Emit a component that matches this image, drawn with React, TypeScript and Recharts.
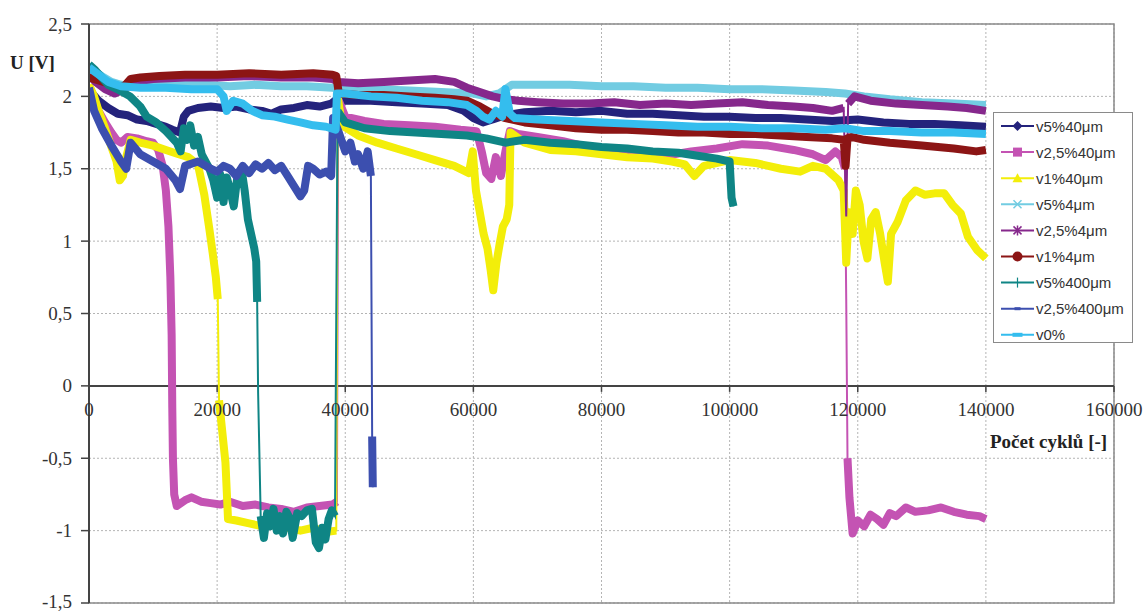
import React from "react";
import {
  CartesianGrid,
  Line,
  LineChart,
  ReferenceArea,
  ReferenceLine,
  XAxis,
  YAxis,
} from "recharts";

// cycle counts (x) and voltages (y), one pair of arrays per sample
const v5_40_x = [0, 500, 1500, 3000, 4500, 6000, 7500, 9000, 10500, 12000, 13000, 14200, 14800, 15500, 17000, 19000, 21000, 23000, 25000, 27000, 28500, 30000, 32000, 34000, 36000, 37800, 38700, 40000, 44000, 48000, 52000, 56000, 58500, 60000, 61500, 63000, 65000, 68000, 72000, 76000, 80000, 84000, 88000, 92000, 96000, 100000, 104000, 108000, 112000, 116000, 120000, 124000, 128000, 132000, 136000, 140000];
const v5_40_y = [2.07, 2.02, 1.97, 1.92, 1.88, 1.87, 1.84, 1.83, 1.81, 1.79, 1.77, 1.75, 1.86, 1.9, 1.92, 1.93, 1.92, 1.93, 1.91, 1.9, 1.88, 1.91, 1.92, 1.94, 1.93, 1.95, 1.98, 1.97, 1.97, 1.96, 1.95, 1.94, 1.9, 1.85, 1.82, 1.84, 1.87, 1.89, 1.9, 1.89, 1.9, 1.88, 1.88, 1.87, 1.86, 1.86, 1.85, 1.85, 1.84, 1.83, 1.84, 1.82, 1.81, 1.81, 1.8, 1.79];

const v25_40_x = [0, 700, 1500, 2500, 3500, 4300, 5000, 6000, 7500, 9000, 10000, 10800, 11500, 12000, 12400, 12700, 12900, 13000, 13100, 13300, 13700, 15000, 16000, 17500, 19000, 20500, 22000, 24000, 26000, 28000, 30000, 32000, 34000, 36000, 38000, 38700, 38900, 40000, 43000, 46000, 50000, 54000, 58000, 60500, 61300, 62000, 62800, 63500, 64300, 65000, 65700, 67000, 70000, 74000, 78000, 82000, 86000, 90000, 94000, 98000, 102000, 106000, 110000, 113000, 115000, 116500, 117500, 118000, 118200, 118400, 118700, 119200, 120000, 121000, 122000, 123000, 124000, 125000, 126000, 127500, 129000, 131000, 133000, 135000, 137000, 139000, 140000];
const v25_40_y = [2.05, 1.98, 1.9, 1.82, 1.75, 1.7, 1.68, 1.72, 1.71, 1.69, 1.68, 1.63, 1.52, 1.35, 1.1, 0.75, 0.35, -0.15, -0.5, -0.75, -0.83, -0.79, -0.77, -0.8, -0.81, -0.82, -0.8, -0.83, -0.82, -0.84, -0.85, -0.87, -0.84, -0.83, -0.82, -0.8, 1.98, 1.86, 1.83, 1.81, 1.8, 1.79, 1.77, 1.76, 1.62, 1.47, 1.43, 1.58, 1.45, 1.62, 1.76, 1.74, 1.72, 1.69, 1.65, 1.62, 1.6, 1.59, 1.62, 1.64, 1.67, 1.66, 1.63, 1.6, 1.56, 1.62, 1.58, 1.5, 0.6, -0.5, -0.77, -1.02, -0.93, -0.97, -0.89, -0.92, -0.96, -0.88, -0.9, -0.84, -0.87, -0.86, -0.84, -0.87, -0.89, -0.9, -0.92];

const v1_40_x = [0, 800, 1500, 2500, 3500, 4300, 4800, 5300, 5800, 6500, 8000, 10000, 12000, 14000, 15500, 17000, 18000, 18800, 19300, 19800, 20100, 20300, 21300, 21700, 23000, 25000, 27000, 29000, 31000, 33000, 35000, 37000, 38600, 38800, 39500, 42000, 45000, 48000, 51000, 54000, 57000, 59300, 59900, 60400, 61000, 61600, 62200, 62700, 63100, 63600, 64100, 64600, 65200, 65600, 65800, 68000, 72000, 76000, 80000, 84000, 88000, 91000, 93000, 94500, 96000, 100000, 104000, 108000, 111000, 113000, 115000, 117000, 117800, 118200, 118600, 119200, 119700, 120300, 120900, 121500, 122100, 122800, 123500, 124200, 124700, 125200, 126200, 127500, 129000, 130500, 132000, 133500, 134800, 136100, 137200, 138600, 140000];
const v1_40_y = [2.08, 2.0, 1.9, 1.78, 1.65, 1.55, 1.42, 1.45, 1.58, 1.7, 1.68, 1.66, 1.63, 1.6, 1.58, 1.53, 1.32, 1.08, 0.92, 0.75, 0.6, -0.1, -0.53, -0.92, -0.93, -0.95, -0.97, -0.96, -0.98, -1.0, -0.98, -1.01, -1.0, 2.0, 1.8, 1.73, 1.68, 1.64, 1.6, 1.56, 1.52, 1.47, 1.62, 1.35, 1.2, 1.05, 0.95, 0.8, 0.66, 0.85, 0.98, 1.1, 1.15, 1.25, 1.75, 1.68, 1.63, 1.62, 1.6, 1.58, 1.57, 1.55, 1.53, 1.45, 1.52, 1.56, 1.54, 1.5, 1.48, 1.52, 1.5, 1.42, 1.35, 0.85, 1.2, 1.05, 1.35, 1.25, 1.0, 0.88, 1.15, 1.2, 1.05, 0.85, 0.72, 1.05, 1.13, 1.28, 1.35, 1.32, 1.33, 1.33, 1.25, 1.19, 1.03, 0.94, 0.88];

const v5_4_x = [0, 1000, 2000, 3500, 5000, 7000, 10000, 14000, 18000, 22000, 26000, 30000, 34000, 38000, 40000, 45000, 50000, 55000, 60000, 62000, 64000, 66000, 70000, 75000, 80000, 85000, 90000, 95000, 100000, 105000, 110000, 115000, 118000, 121000, 125000, 130000, 135000, 140000];
const v5_4_y = [2.2, 2.17, 2.14, 2.1, 2.08, 2.07, 2.08, 2.08, 2.08, 2.07, 2.08, 2.07, 2.07, 2.06, 2.05, 2.05, 2.04, 2.03, 2.02, 2.0, 2.02, 2.08, 2.08, 2.08, 2.07, 2.07, 2.06, 2.06, 2.05, 2.05, 2.04, 2.03, 2.02, 2.0, 1.98, 1.96, 1.95, 1.94];

const v25_4_x = [0, 1000, 2500, 4000, 5500, 7000, 10000, 15000, 20000, 25000, 30000, 35000, 38000, 39000, 42000, 46000, 50000, 54000, 57000, 59000, 61000, 63000, 65000, 67000, 70000, 74000, 78000, 82000, 86000, 90000, 94000, 98000, 102000, 106000, 110000, 113000, 116000, 117800, 118200, 118500, 119500, 122000, 126000, 130000, 134000, 137000, 140000];
const v25_4_y = [2.15, 2.1, 2.05, 2.02, 2.05, 2.1, 2.12, 2.13, 2.13, 2.14, 2.13, 2.13, 2.12, 2.1, 2.09, 2.1, 2.11, 2.12, 2.1, 2.06, 2.03, 2.0, 1.98, 1.97, 1.96, 1.95, 1.95, 1.96, 1.94, 1.95, 1.94, 1.95, 1.96, 1.94, 1.93, 1.92, 1.9, 1.92, 1.17, 1.95, 2.0, 1.97, 1.95, 1.94, 1.93, 1.92, 1.9];

const v1_4_x = [0, 1500, 3000, 4500, 5500, 6500, 8000, 11000, 15000, 20000, 25000, 30000, 35000, 38000, 38600, 39000, 42000, 46000, 50000, 54000, 57000, 59000, 61000, 63000, 65000, 68000, 72000, 76000, 80000, 84000, 88000, 92000, 96000, 100000, 104000, 108000, 112000, 116000, 117800, 118100, 118400, 119000, 121000, 125000, 130000, 135000, 138500, 140000];
const v1_4_y = [2.13, 2.11, 2.09, 2.07, 2.07, 2.12, 2.13, 2.14, 2.15, 2.15, 2.16, 2.15, 2.16, 2.15, 2.14, 2.02, 2.01, 2.01, 2.0, 1.99, 1.98, 1.97, 1.93, 1.88, 1.85, 1.82, 1.8, 1.78, 1.77, 1.77, 1.76, 1.75, 1.75, 1.74, 1.74, 1.73, 1.72, 1.71, 1.7, 1.52, 1.71, 1.72, 1.7, 1.68, 1.66, 1.64, 1.62, 1.63];

const v5_400_x = [0, 1000, 2000, 3000, 4400, 6400, 8000, 9000, 10500, 12000, 13700, 14300, 14800, 15300, 15800, 16400, 17000, 17600, 18200, 18800, 19400, 20000, 20500, 21000, 21500, 22000, 22600, 23200, 23800, 24300, 24800, 25300, 25800, 26100, 26250, 26400, 26800, 27300, 27800, 28300, 28800, 29300, 29800, 30300, 30800, 31300, 31800, 32500, 33200, 34000, 34800, 35400, 35900, 36400, 36900, 37400, 37900, 38400, 38800, 40000, 43000, 47000, 51000, 55000, 59000, 62000, 65000, 68000, 72000, 76000, 80000, 84000, 88000, 92000, 95000, 98000, 100000, 100300, 100600];
const v5_400_y = [2.22, 2.18, 2.13, 2.08, 2.05, 2.0, 1.93, 1.86, 1.82, 1.76, 1.68, 1.62, 1.78, 1.7, 1.8, 1.66, 1.72, 1.6, 1.55, 1.5, 1.42, 1.3, 1.46, 1.27, 1.44, 1.36, 1.24, 1.46, 1.5, 1.35, 1.15, 1.05, 0.95, 0.86, 0.58, -0.05, -0.9, -1.05, -0.88, -0.97, -0.85, -1.0, -0.9, -1.02, -0.87, -0.91, -1.05, -0.88, -0.9, -0.86, -0.85, -1.08, -1.12, -0.98, -1.06, -0.92, -0.86, -0.9, 1.9, 1.82, 1.78, 1.76, 1.75, 1.74, 1.73, 1.71, 1.68, 1.7, 1.68, 1.67, 1.65, 1.64, 1.62, 1.61, 1.59, 1.57, 1.55, 1.3, 1.24];

const v25_400_x = [0, 800, 2000, 3500, 5000, 5800, 6500, 8000, 10000, 12000, 13500, 14200, 15000, 17000, 19000, 20000, 21000, 22000, 23000, 24000, 25000, 26000, 27000, 28000, 29000, 30000, 31000, 32000, 33000, 33600, 34200, 35000, 36000, 37000, 37800, 38100, 39000, 40000, 40800, 41500, 42000, 42800, 43500, 44000, 44200, 44300];
const v25_400_y = [2.06, 1.9, 1.78, 1.66, 1.55, 1.5, 1.68, 1.6, 1.55, 1.5, 1.42, 1.36, 1.52, 1.55, 1.5, 1.48, 1.52, 1.5, 1.45, 1.52, 1.47, 1.53, 1.5, 1.54, 1.49, 1.52, 1.45, 1.38, 1.31, 1.35, 1.52, 1.5, 1.46, 1.48, 1.45, 1.85, 1.75, 1.62, 1.68, 1.55, 1.6, 1.5, 1.62, 1.45, -0.35, -0.7];

const v0_x = [0, 1500, 3000, 5000, 8000, 12000, 16000, 20000, 21000, 21500, 22500, 24000, 25500, 27000, 29000, 31000, 33000, 35000, 37000, 38500, 38700, 40000, 44000, 48000, 52000, 56000, 59000, 60500, 61500, 62500, 63500, 64500, 65000, 65700, 66500, 70000, 75000, 80000, 85000, 90000, 95000, 100000, 105000, 110000, 115000, 118000, 121000, 125000, 130000, 135000, 140000];
const v0_y = [2.2, 2.15, 2.1, 2.07, 2.06, 2.06, 2.05, 2.05, 2.0, 1.9, 1.97, 1.95, 1.9, 1.87, 1.86, 1.84, 1.82, 1.8, 1.79, 1.77, 2.02, 2.02, 2.0, 1.99, 1.97, 1.96, 1.94, 1.9, 1.86, 1.84, 1.9, 1.86, 2.05, 1.88, 1.85, 1.84, 1.83, 1.82, 1.81, 1.8, 1.79, 1.79, 1.78, 1.78, 1.77, 1.78, 1.76, 1.76, 1.75, 1.75, 1.74];

const X_TICKS = [0, 20000, 40000, 60000, 80000, 100000, 120000, 140000, 160000];
const Y_TICKS = [-1.5, -1, -0.5, 0, 0.5, 1, 1.5, 2, 2.5];

const W = 1146;
const H = 611;
const MARGIN = { top: 24, right: 32, bottom: 0, left: 0 };
const X_AXIS_H = 8;
const Y_MIN = -1.5;
const Y_MAX = 2.5;
const PLOT_H = H - MARGIN.top - MARGIN.bottom - X_AXIS_H;
const ZERO_Y = MARGIN.top + (PLOT_H * Y_MAX) / (Y_MAX - Y_MIN);
const JUMP = 0.6; // voltage step above which the dense marker band breaks into a thin connector
const SERIF = "'Liberation Serif', 'Times New Roman', serif";
const SANS = "'Liberation Sans', Arial, sans-serif";

type Marker = "diamond" | "square" | "triangle" | "x" | "star" | "circle" | "plus" | "dash" | "bar";

const series: { name: string; color: string; xs: number[]; ys: number[]; marker: Marker }[] = [
  { name: "v5%40μm", color: "#24237C", xs: v5_40_x, ys: v5_40_y, marker: "diamond" },
  { name: "v2,5%40μm", color: "#C453B3", xs: v25_40_x, ys: v25_40_y, marker: "square" },
  { name: "v1%40μm", color: "#F3EE0A", xs: v1_40_x, ys: v1_40_y, marker: "triangle" },
  { name: "v5%4μm", color: "#72CCE2", xs: v5_4_x, ys: v5_4_y, marker: "x" },
  { name: "v2,5%4μm", color: "#86288C", xs: v25_4_x, ys: v25_4_y, marker: "star" },
  { name: "v1%4μm", color: "#8C1515", xs: v1_4_x, ys: v1_4_y, marker: "circle" },
  { name: "v5%400μm", color: "#0F8585", xs: v5_400_x, ys: v5_400_y, marker: "plus" },
  { name: "v2,5%400μm", color: "#3C4FAF", xs: v25_400_x, ys: v25_400_y, marker: "dash" },
  { name: "v0%", color: "#34BDEE", xs: v0_x, ys: v0_y, marker: "bar" },
];

const fmtY = (v: number) => String(v).replace(".", ",");

// full path of the series
const toPoints = (xs: number[], ys: number[]) => xs.map((x, i) => ({ x, y: ys[i] as number | null }));

// same points, but the thick band is interrupted (null gap) across big jumps
function toBand(xs: number[], ys: number[]) {
  const out: { x: number; y: number | null }[] = [];
  xs.forEach((x, i) => {
    if (i > 0 && Math.abs(ys[i] - ys[i - 1]) > JUMP) out.push({ x: (x + xs[i - 1]) / 2, y: null });
    out.push({ x, y: ys[i] });
  });
  return out;
}

function XTick(props: any) {
  const { x, payload } = props;
  return (
    <g>
      <line x1={x} x2={x} y1={ZERO_Y} y2={ZERO_Y + 6} stroke="#444" strokeWidth={1.5} />
      <text
        x={x}
        y={ZERO_Y + 24}
        textAnchor="middle"
        dominantBaseline="central"
        fontFamily={SERIF}
        fontSize={19}
        fill="#333"
      >
        {payload.value}
      </text>
    </g>
  );
}

function YTick(props: any) {
  const { x, y, payload } = props;
  return (
    <text
      x={x}
      y={Math.min(y, H - 10)}
      textAnchor="end"
      dominantBaseline="central"
      fontFamily={SERIF}
      fontSize={19}
      fill="#333"
    >
      {fmtY(payload.value)}
    </text>
  );
}

function MarkerIcon({ kind, cx, cy, color }: { kind: Marker; cx: number; cy: number; color: string }) {
  switch (kind) {
    case "diamond":
      return <polygon points={`${cx},${cy - 5} ${cx + 5},${cy} ${cx},${cy + 5} ${cx - 5},${cy}`} fill={color} />;
    case "square":
      return <rect x={cx - 4.5} y={cy - 4.5} width={9} height={9} fill={color} />;
    case "triangle":
      return <polygon points={`${cx},${cy - 5} ${cx + 5},${cy + 4} ${cx - 5},${cy + 4}`} fill={color} />;
    case "x":
      return (
        <path d={`M${cx - 4},${cy - 4}L${cx + 4},${cy + 4}M${cx - 4},${cy + 4}L${cx + 4},${cy - 4}`} stroke={color} strokeWidth={1.5} />
      );
    case "star":
      return (
        <path
          d={`M${cx - 4},${cy - 4}L${cx + 4},${cy + 4}M${cx - 4},${cy + 4}L${cx + 4},${cy - 4}M${cx},${cy - 5}L${cx},${cy + 5}`}
          stroke={color}
          strokeWidth={1.5}
        />
      );
    case "circle":
      return <circle cx={cx} cy={cy} r={5} fill={color} />;
    case "plus":
      return <path d={`M${cx},${cy - 5}L${cx},${cy + 5}`} stroke={color} strokeWidth={1.2} />;
    case "dash":
      return <rect x={cx - 3} y={cy - 1.5} width={6} height={3} fill={color} />;
    case "bar":
      return <rect x={cx - 5} y={cy - 2} width={10} height={4} fill={color} />;
  }
}

function LegendBox() {
  const rowH = 26.1;
  return (
    <div
      style={{
        position: "absolute",
        left: 993,
        top: 112,
        width: 140,
        height: 231,
        border: "1px solid #8a8a8a",
        background: "#fff",
        boxSizing: "border-box",
      }}
    >
      <svg width={140} height={231}>
        {series.map((s, i) => {
          const cy = 13 + i * rowH;
          return (
            <g key={s.name}>
              <line x1={7} x2={40} y1={cy} y2={cy} stroke={s.color} strokeWidth={2} />
              <MarkerIcon kind={s.marker} cx={23.5} cy={cy} color={s.color} />
              <text x={42} y={cy} dominantBaseline="central" fontFamily={SANS} fontSize={15} fill="#333">
                {s.name}
              </text>
            </g>
          );
        })}
      </svg>
    </div>
  );
}

export default function App() {
  const lines: React.ReactNode[] = [];
  series.forEach((s) => {
    lines.push(
      <Line
        key={s.name + "-thin"}
        data={toPoints(s.xs, s.ys)}
        dataKey="y"
        type="linear"
        stroke={s.color}
        strokeWidth={2}
        dot={false}
        activeDot={false}
        legendType="none"
        isAnimationActive={false}
      />
    );
    lines.push(
      <Line
        key={s.name}
        name={s.name}
        data={toBand(s.xs, s.ys)}
        dataKey="y"
        type="linear"
        stroke={s.color}
        strokeWidth={8}
        strokeLinejoin="round"
        connectNulls={false}
        dot={false}
        activeDot={false}
        isAnimationActive={false}
      />
    );
  });

  return (
    <div style={{ position: "absolute", left: 0, top: 0, width: W, height: H, background: "#fff" }}>
      <LineChart width={W} height={H} margin={MARGIN}>
        <CartesianGrid stroke="#b4b4b4" strokeDasharray="2 2" />
        <ReferenceArea x1={0} x2={160000} y1={Y_MIN} y2={Y_MAX} fill="none" stroke="#8a8a8a" strokeWidth={1.5} />
        <XAxis
          dataKey="x"
          type="number"
          domain={[0, 160000]}
          ticks={X_TICKS}
          interval={0}
          height={X_AXIS_H}
          axisLine={false}
          tickLine={false}
          tick={XTick}
          allowDataOverflow
        />
        <YAxis
          type="number"
          domain={[Y_MIN, Y_MAX]}
          ticks={Y_TICKS}
          interval={0}
          width={89}
          tickSize={8}
          tickMargin={9}
          axisLine={{ stroke: "#444", strokeWidth: 2 }}
          tickLine={{ stroke: "#444", strokeWidth: 1.5 }}
          tick={YTick}
          allowDataOverflow
        />
        <ReferenceLine y={0} stroke="#444" strokeWidth={2} />
        {lines}
      </LineChart>
      <div
        style={{
          position: "absolute",
          left: 10,
          top: 52,
          fontFamily: SERIF,
          fontWeight: "bold",
          fontSize: 19,
          color: "#222",
        }}
      >
        U [V]
      </div>
      <div
        style={{
          position: "absolute",
          left: 990,
          top: 431,
          fontFamily: SERIF,
          fontWeight: "bold",
          fontSize: 19,
          color: "#222",
          whiteSpace: "nowrap",
        }}
      >
        Počet cyklů [-]
      </div>
      <LegendBox />
    </div>
  );
}
